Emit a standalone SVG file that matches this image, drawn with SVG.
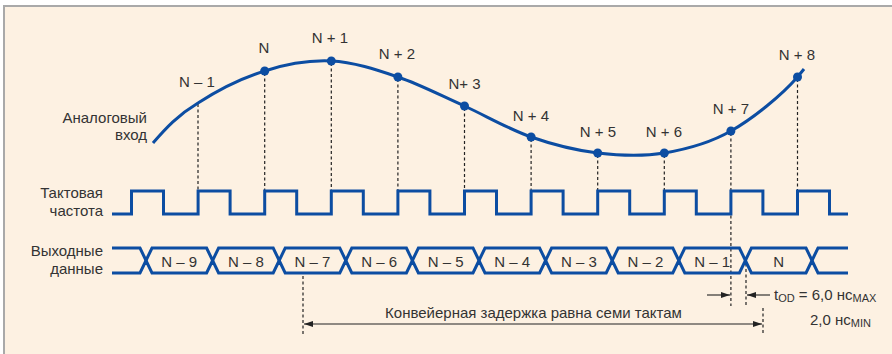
<svg xmlns="http://www.w3.org/2000/svg" width="892" height="354" viewBox="0 0 892 354">
<style>
text{font-family:"Liberation Sans",Arial,sans-serif;font-size:15px;fill:#333}
.m{text-anchor:middle}
.e{text-anchor:end}
.w{fill:none;stroke:#0C4DA2;stroke-width:3;stroke-linejoin:miter}
.dot{fill:#0C4DA2}
.d{stroke:#222;stroke-width:1.2;stroke-dasharray:3 2.5;fill:none}
.a{stroke:#222;stroke-width:1.1;fill:none}
.s{font-size:11px}
</style>
<defs>
<marker id="ah" viewBox="0 0 9 6" markerWidth="9" markerHeight="6" refX="9" refY="3" orient="auto-start-reverse" markerUnits="userSpaceOnUse">
<path d="M0,0 L9,3 L0,6 Z" fill="#222"/>
</marker>
</defs>
<rect x="0" y="0" width="892" height="354" fill="#fff"/>
<rect x="4" y="6" width="900" height="360" fill="#FDF1E2" stroke="#A9A9A9" stroke-width="2"/>

<g id="connectors">
<line class="d" x1="198" y1="104" x2="198" y2="190"/>
<line class="d" x1="264.7" y1="73" x2="264.7" y2="190"/>
<line class="d" x1="331.3" y1="63" x2="331.3" y2="190"/>
<line class="d" x1="397.9" y1="79" x2="397.9" y2="190"/>
<line class="d" x1="464.5" y1="108" x2="464.5" y2="190"/>
<line class="d" x1="531.1" y1="139" x2="531.1" y2="190"/>
<line class="d" x1="597.7" y1="155" x2="597.7" y2="190"/>
<line class="d" x1="664.3" y1="155" x2="664.3" y2="190"/>
<line class="d" x1="730.9" y1="133" x2="730.9" y2="306"/>
<line class="d" x1="797.5" y1="79" x2="797.5" y2="190"/>
<line class="d" x1="746" y1="258" x2="746" y2="306"/>
<line class="d" x1="303" y1="276" x2="303" y2="335"/>
<line class="d" x1="763" y1="308" x2="763" y2="334"/>
<line class="a" x1="304" y1="324" x2="762" y2="324" marker-start="url(#ah)" marker-end="url(#ah)"/>
<line class="a" x1="707" y1="295" x2="730" y2="295" marker-end="url(#ah)"/>
<line class="a" x1="770" y1="295" x2="747" y2="295" marker-end="url(#ah)"/>
</g>

<g id="analog">
<path class="w" stroke-linecap="butt" d="M153,143 C166,128 178,115 198,103 C216.5,91 241.8,78 264.7,71 C286.2,64 308.7,60 331.3,61 C353.3,62 375.8,69.5 397.9,77 C420.2,84.5 441.8,96 464.5,106 C486.2,116 508.7,129.2 531.1,137 C553.3,144.8 575.8,150.3 597.7,153 C620.2,155.7 641.8,156.7 664.3,153 C686.2,149.3 708.7,143.7 730.9,131 C753.3,118.3 782,95 797.5,77 L804,69"/>
<circle class="dot" cx="264.7" cy="71" r="4.5"/>
<circle class="dot" cx="331.3" cy="61" r="4.5"/>
<circle class="dot" cx="397.9" cy="77" r="4.5"/>
<circle class="dot" cx="464.5" cy="106" r="4.5"/>
<circle class="dot" cx="531.1" cy="137" r="4.5"/>
<circle class="dot" cx="597.7" cy="153" r="4.5"/>
<circle class="dot" cx="664.3" cy="153" r="4.5"/>
<circle class="dot" cx="730.9" cy="131" r="4.5"/>
<circle class="dot" cx="797.5" cy="77" r="4.5"/>
<text class="e" x="147" y="122.5">Аналоговый</text>
<text class="e" x="147" y="140">вход</text>
<text class="m" x="197" y="87">N – 1</text>
<text class="m" x="264" y="53">N</text>
<text class="m" x="330" y="43">N + 1</text>
<text class="m" x="397" y="59">N + 2</text>
<text class="m" x="464.5" y="89">N+ 3</text>
<text class="m" x="531" y="121">N + 4</text>
<text class="m" x="598" y="137">N + 5</text>
<text class="m" x="664" y="137">N + 6</text>
<text class="m" x="731" y="114">N + 7</text>
<text class="m" x="797" y="60">N + 8</text>
</g>

<g id="clock">
<path class="w" d="M112,214 H131.5 V191 H163.5 V214 H198.1 V191 H230.1 V214 H264.7 V191 H296.7 V214 H331.3 V191 H363.3 V214 H397.9 V191 H429.9 V214 H464.5 V191 H496.5 V214 H531.1 V191 H563.1 V214 H597.7 V191 H629.7 V214 H664.3 V191 H696.3 V214 H730.9 V191 H762.9 V214 H797.5 V191 H829.5 V214 H848"/>
<text class="e" x="103" y="198">Тактовая</text>
<text class="e" x="103" y="215.5">частота</text>
</g>

<g id="data">
<path class="w" d="M112,248 H140 L146,260.5 L152,248 H206.6 L212.6,260.5 L218.6,248 H273.2 L279.2,260.5 L285.2,248 H339.8 L345.8,260.5 L351.8,248 H406.4 L412.4,260.5 L418.4,248 H473 L479,260.5 L485,248 H539.6 L545.6,260.5 L551.6,248 H606.2 L612.2,260.5 L618.2,248 H672.8 L678.8,260.5 L684.8,248 H739.4 L745.4,260.5 L751.4,248 H806 L812,260.5 L818,248 H848"/>
<path class="w" d="M112,273 H140 L146,260.5 L152,273 H206.6 L212.6,260.5 L218.6,273 H273.2 L279.2,260.5 L285.2,273 H339.8 L345.8,260.5 L351.8,273 H406.4 L412.4,260.5 L418.4,273 H473 L479,260.5 L485,273 H539.6 L545.6,260.5 L551.6,273 H606.2 L612.2,260.5 L618.2,273 H672.8 L678.8,260.5 L684.8,273 H739.4 L745.4,260.5 L751.4,273 H806 L812,260.5 L818,273 H848"/>
<text class="e" x="103" y="256">Выходные</text>
<text class="e" x="103" y="273.5">данные</text>
<text class="m" x="179.3" y="266.5">N – 9</text>
<text class="m" x="245.9" y="266.5">N – 8</text>
<text class="m" x="312.5" y="266.5">N – 7</text>
<text class="m" x="379.1" y="266.5">N – 6</text>
<text class="m" x="445.7" y="266.5">N – 5</text>
<text class="m" x="512.3" y="266.5">N – 4</text>
<text class="m" x="578.9" y="266.5">N – 3</text>
<text class="m" x="645.5" y="266.5">N – 2</text>
<text class="m" x="712.1" y="266.5">N – 1</text>
<text class="m" x="778.7" y="266.5">N</text>
</g>

<g id="timing-labels">
<text class="m" x="533.5" y="318">Конвейерная задержка равна семи тактам</text>
<text x="774" y="300">t<tspan class="s" dy="2">OD</tspan><tspan dy="-2"> = 6,0 нс</tspan><tspan class="s" dy="2">MAX</tspan></text>
<text x="810" y="325">2,0 нс<tspan class="s" dy="2">MIN</tspan></text>
</g>
</svg>
